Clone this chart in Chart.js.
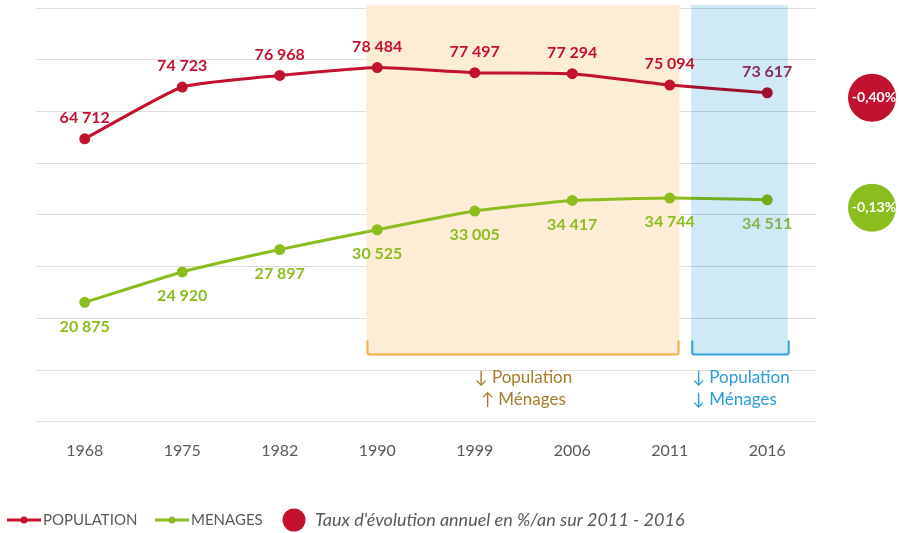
<!DOCTYPE html>
<html>
<head>
<meta charset="utf-8">
<script src="https://cdn.jsdelivr.net/npm/chart.js@4"></script>
<style>
  body { margin: 0; background: #fff; }
</style>
</head>
<body>
<canvas id="myChart" width="899" height="533"></canvas>
<script>
// data
const years = ['1968', '1975', '1982', '1990', '1999', '2006', '2011', '2016']
const population = [64712, 74723, 76968, 78484, 77497, 77294, 75094, 73617]
const menages = [20875, 24920, 27897, 30525, 33005, 34417, 34744, 34511]
const rate_labels = ['-0,40%', '-0,13%']
const legend_texts = ['POPULATION', 'MENAGES', "Taux d'évolution annuel en %/an sur 2011 - 2016"]

const red = '#c3122f'
const green = '#8cbd1e'
const grey = '#595959'
const font = 'Lato, "Open Sans", sans-serif'

function fmt(v) {
    return String(v).replace(/\B(?=(\d{3})+(?!\d))/g, ' ')
}

// background bands + brackets + notes
const bands_plugin = {
    id: 'bands',
    beforeDatasetsDraw(chart) {
        const ctx = chart.ctx
        const x = chart.scales.x
        const y = chart.scales.y
        const top = chart.chartArea.top - 3
        const bottom = y.getPixelForValue(23000)
        // orange zone 1990 - 2011
        let x0 = x.getPixelForValue(2.89), x1 = x.getPixelForValue(6.10)
        ctx.save()
        ctx.fillStyle = '#fdedd6'
        ctx.fillRect(x0, top, x1 - x0, bottom - top)
        ctx.restore()
    },
    afterDatasetsDraw(chart) {
        const ctx = chart.ctx
        const x = chart.scales.x
        const y = chart.scales.y
        const top = chart.chartArea.top - 3
        const bottom = y.getPixelForValue(23000)
        // blue zone 2011 - 2016 (sits over the lines, a bit see-through)
        let x0 = x.getPixelForValue(6.22), x1 = x.getPixelForValue(7.21)
        ctx.save()
        ctx.globalCompositeOperation = 'multiply'
        ctx.fillStyle = '#cfe9f7'
        ctx.fillRect(x0, top, x1 - x0, bottom - top)
        ctx.restore()

        // brackets
        const brackets = [[2.89, 6.10, '#f0ad3c'], [6.22, 7.23, '#2fa2db']]
        brackets.forEach(([a, b, col]) => {
            const p0 = x.getPixelForValue(a) + 1
            const p1 = x.getPixelForValue(b) - 1
            const yb = bottom
            const yt = bottom - 14
            ctx.save()
            ctx.strokeStyle = col
            ctx.lineWidth = 2
            ctx.beginPath()
            ctx.moveTo(p0, yt)
            ctx.lineTo(p0, yb - 2)
            ctx.quadraticCurveTo(p0, yb, p0 + 2, yb)
            ctx.lineTo(p1 - 2, yb)
            ctx.quadraticCurveTo(p1, yb, p1, yb - 2)
            ctx.lineTo(p1, yt)
            ctx.stroke()
            ctx.restore()
        })

        // notes under the brackets
        ctx.save()
        ctx.font = '17px ' + font
        ctx.textBaseline = 'middle'
        ctx.fillStyle = '#a87b2c'
        ctx.textAlign = 'center'
        let px = x.getPixelForValue(4.5)
        ctx.fillText('\u2193 Population', px, bottom + 23)
        ctx.fillText('\u2191 Ménages', px, bottom + 45)
        ctx.fillStyle = '#2a9cd6'
        ctx.textAlign = 'left'
        px = x.getPixelForValue(6.22) + 1
        ctx.fillText('\u2193 Population', px, bottom + 23)
        ctx.fillText('\u2193 Ménages', px, bottom + 45)
        ctx.restore()
    }
}

// value labels, rate bubbles and legend
const labels_plugin = {
    id: 'value_labels',
    afterDraw(chart) {
        const ctx = chart.ctx
        ctx.save()
        ctx.font = 'bold 16px ' + font
        ctx.textAlign = 'center'
        ctx.textBaseline = 'middle'
        chart.getDatasetMeta(0).data.forEach((pt, i) => {
            ctx.fillStyle = i == 7 ? '#8a2a52' : red
            ctx.fillText(fmt(population[i]), pt.x, pt.y - 21)
        })
        chart.getDatasetMeta(1).data.forEach((pt, i) => {
            ctx.fillStyle = i == 7 ? '#86b04a' : green
            ctx.fillText(fmt(menages[i]), pt.x, pt.y + 24)
        })

        // bubbles on the right
        const cx = chart.chartArea.right + 56
        const last0 = chart.getDatasetMeta(0).data[7]
        const last1 = chart.getDatasetMeta(1).data[7]
        const bubbles = [[last0.y + 5, red, rate_labels[0]], [last1.y + 8, green, rate_labels[1]]]
        bubbles.forEach(([cy, col, t]) => {
            ctx.fillStyle = col
            ctx.beginPath()
            ctx.arc(cx, cy, 24, 0, Math.PI * 2)
            ctx.fill()
            ctx.fillStyle = '#fff'
            ctx.font = 'bold 14px ' + font
            ctx.fillText(t, cx + 2, cy)
        })

        // legend
        const ly = 520
        ctx.font = '15px ' + font
        ctx.textAlign = 'left'
        const items = [[7, red, legend_texts[0]], [155, green, legend_texts[1]]]
        items.forEach(([lx, col, t]) => {
            ctx.strokeStyle = col
            ctx.lineWidth = 3
            ctx.beginPath()
            ctx.moveTo(lx, ly)
            ctx.lineTo(lx + 34, ly)
            ctx.stroke()
            ctx.fillStyle = col
            ctx.beginPath()
            ctx.arc(lx + 17, ly, 3.5, 0, Math.PI * 2)
            ctx.fill()
            ctx.fillStyle = grey
            ctx.fillText(t, lx + 36, ly)
        })
        ctx.fillStyle = red
        ctx.beginPath()
        ctx.arc(294, ly, 11.5, 0, Math.PI * 2)
        ctx.fill()
        ctx.fillStyle = grey
        ctx.font = 'italic 18px ' + font
        ctx.fillText(legend_texts[2], 315, ly)
        ctx.restore()
    }
}

const ctx = document.getElementById('myChart').getContext('2d')
const myChart = new Chart(ctx, {
    type: 'line',
    data: {
        labels: years,
        datasets: [{
            label: 'POPULATION',
            data: population,
            yAxisID: 'y',
            borderColor: red,
            backgroundColor: red,
            borderWidth: 3,
            pointRadius: 4,
            pointHoverRadius: 4,
            tension: 0.15
        }, {
            label: 'MENAGES',
            data: menages,
            yAxisID: 'y2',
            borderColor: green,
            backgroundColor: green,
            borderWidth: 3,
            pointRadius: 4,
            pointHoverRadius: 4,
            tension: 0.15
        }]
    },
    options: {
        responsive: false,
        animation: false,
        layout: { padding: { left: 36, right: 83, top: 8, bottom: 54 } },
        plugins: {
            legend: { display: false },
            tooltip: { enabled: false }
        },
        scales: {
            x: {
                offset: true,
                grid: { display: false, drawTicks: false },
                border: { display: false },
                ticks: { color: grey, font: { family: font, size: 16 }, padding: 19 }
            },
            y: {
                min: 10000,
                max: 90000,
                ticks: { display: false, stepSize: 10000 },
                grid: { color: '#dcdcdc', lineWidth: 1, drawTicks: false },
                border: { display: false }
            },
            y2: {
                display: false,
                min: 5000,
                max: 60000
            }
        }
    },
    plugins: [bands_plugin, labels_plugin]
})
</script>
</body>
</html>
